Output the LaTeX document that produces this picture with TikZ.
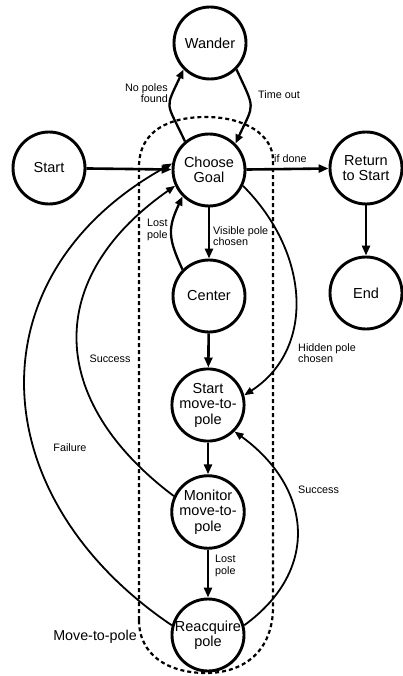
\documentclass[tikz,border=0pt]{standalone}
\usepackage{fontspec}
\setmainfont{Liberation Sans}
\usetikzlibrary{arrows.meta}
\begin{document}
\begin{tikzpicture}[x=1pt,y=1pt,
  state/.style={circle,draw,fill=white,line width=2.9pt,minimum size=72pt,inner sep=0pt,align=center,font=\fontsize{14.5}{15.5}\selectfont},
  lbl/.style={font=\fontsize{10.8}{11.6}\selectfont,inner sep=0pt},
  thickarrow/.style={line width=2.6pt,-{Triangle[length=10pt,width=8pt]}},
  midarrow/.style={line width=2.3pt,-{Triangle[length=9pt,width=7.5pt]}},
  thinarrow/.style={line width=1.8pt,-{Triangle[length=9pt,width=7pt]}},
  boundary/.style={line width=2.2pt,dash pattern=on 4pt off 3pt}]
\useasboundingbox (0,0) rectangle (402,-676);
% group boundary
\draw[boundary] (139,-620) -- (139,-167) .. controls (139,-130) and (170,-117) .. (206,-117)
  .. controls (245,-117) and (273,-135) .. (273,-160) -- (273,-607)
  .. controls (273,-650) and (245,-673) .. (206,-673)
  .. controls (168,-673) and (139,-655) .. (139,-620) -- cycle;
% states
\node[state] (w) at (210,-43) {Wander};
\node[state] (cg) at (209,-170) {Choose\\Goal};
\node[state] (start) at (49,-168) {Start};
\node[state] (rs) at (366,-168) {Return\\to Start};
\node[state] (end) at (366,-293) {End};
\node[state] (center) at (209,-296) {Center};
\node[state] (smp) at (208,-405) {Start\\move-to-\\pole};
\node[state] (mon) at (208,-512) {Monitor\\move-to-\\pole};
\node[state] (rq) at (208,-635) {Reacquire\\pole};
% labels
\node[lbl,anchor=east,align=right] (lnp) at (168,-93) {No poles\\found};
\node[lbl,anchor=west] (lto) at (258,-95) {Time out};
\node[lbl,anchor=west] (lid) at (274,-159) {if done};
\node[lbl,anchor=west,align=left] (llp1) at (147,-230) {Lost\\pole};
\node[lbl,anchor=west,align=left] (lvp) at (213,-236) {Visible pole\\chosen};
\node[lbl,anchor=west,align=left] (lhp) at (298,-353) {Hidden pole\\chosen};
\node[lbl] (ls1) at (110,-359) {Success};
\node[lbl] (lf) at (70,-448) {Failure};
\node[lbl,anchor=west,align=left] (llp2) at (215,-566) {Lost\\pole};
\node[lbl,anchor=west] (ls2) at (298,-490) {Success};
\node[font=\fontsize{14.3}{15}\selectfont,inner sep=0pt] (mtp) at (95,-637) {Move-to-pole};
% transitions
\draw[thickarrow] (start) -- (cg);
\draw[thickarrow] (cg) -- (rs);
\draw[thickarrow] (rs) -- (end);
\draw[thickarrow] (cg) -- (center);
\draw[thickarrow] (center) -- (smp);
\draw[thickarrow] (smp) -- (mon);
\draw[thickarrow] (mon) -- (rq);
\draw[midarrow] (cg.130) .. controls +(115:45) and +(-115:45) .. (w.-135);
\draw[midarrow] (w.-45) .. controls +(-65:45) and +(65:45) .. (cg.45);
\draw[midarrow] (center.135) .. controls +(115:35) and +(-115:35) .. (cg.-135);
\draw[thinarrow] (cg.-25) .. controls +(-45:95) and +(33:85) .. (smp.15);
\draw[thinarrow] (mon.155) .. controls +(143:160) and +(-145:160) .. (cg.-155);
\draw[thinarrow] (rq.165) .. controls +(146:230) and +(-151:230) .. (cg.170);
\draw[thinarrow] (rq.15) .. controls +(36:95) and +(-36:95) .. (smp.-45);
\end{tikzpicture}
\end{document}
